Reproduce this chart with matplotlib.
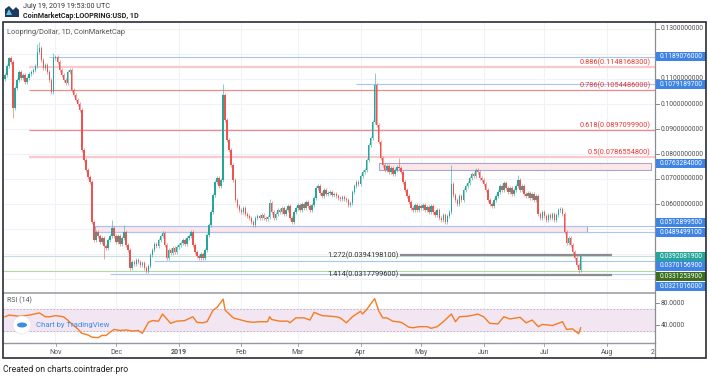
import matplotlib.pyplot as plt
import numpy as np
import pandas as pd
from matplotlib.patches import Rectangle, Polygon, Ellipse
from matplotlib.lines import Line2D

plt.rcParams['font.family'] = ['Roboto', 'DejaVu Sans']

W, H = 710, 377
START = "2018-10-07"

# daily closes, in units of 0.0001 USD, one list per month
close_oct = [1116, 1152, 1184, 1168, 984, 1064, 1096, 1128, 1104, 1116, 1088, 1104, 1120, 1128,
             1136, 1152, 1208, 1224, 1176, 1144, 1156, 1128, 1096, 1048, 1184]
close_nov = [1188, 1168, 1136, 1116, 1096, 1084, 1128, 1136, 1056, 1036, 1016, 1000, 976, 816, 776,
             736, 708, 688, 528, 456, 488, 472, 448, 464, 432, 424, 456, 472, 504, 472]
close_dec = [448, 472, 440, 464, 488, 436, 416, 344, 368, 360, 376, 368, 356, 364, 344, 332, 352,
             396, 416, 440, 432, 456, 472, 484, 436, 384, 416, 404, 424, 408, 428]
close_jan = [436, 444, 456, 440, 464, 472, 488, 436, 408, 392, 384, 400, 384, 416, 476, 516, 568,
             636, 688, 704, 672, 696, 1036, 936, 856, 816, 756, 696, 616, 592, 576]
close_feb = [568, 584, 560, 552, 544, 528, 516, 544, 552, 544, 556, 544, 540, 548, 604, 568, 544,
             560, 576, 568, 584, 560, 576, 592, 544, 528, 568, 584]
close_mar = [596, 576, 600, 584, 608, 592, 576, 596, 624, 664, 672, 644, 632, 656, 640, 644, 648,
             636, 640, 632, 624, 620, 628, 620, 616, 596, 604, 648, 672, 688, 680]
close_apr = [712, 728, 736, 776, 836, 864, 928, 1076, 916, 848, 784, 756, 736, 752, 728, 744, 720,
             736, 748, 744, 728, 688, 656, 632, 608, 584, 576, 596, 576, 592]
close_may = [584, 596, 576, 588, 568, 592, 568, 556, 576, 544, 536, 556, 528, 552, 568, 680, 636,
             616, 600, 632, 616, 656, 672, 684, 704, 720, 712, 736, 728, 704, 696]
close_jun = [680, 656, 616, 600, 592, 616, 632, 648, 672, 656, 684, 664, 648, 664, 640, 656, 672,
             696, 656, 672, 640, 632, 644, 624, 640, 616, 632, 560, 544, 568]
close_jul = [552, 536, 556, 544, 560, 536, 556, 576, 580, 560, 488, 444, 464, 436, 408, 384, 356,
             336, 392]
FIRST_OPEN = 1100

# notable wicks (candle index -> price, 0.0001 USD)
wick_high = {2: 1188, 16: 1240, 17: 1248, 24: 1204, 53: 536, 59: 516, 108: 1080, 131: 620,
             183: 1124, 195: 784, 221: 756, 254: 716}
wick_low = {4: 944, 49: 380, 70: 324, 284: 326}

# RSI(14): (candle index, value)
rsi_points = [(0, 55), (2, 58), (7, 56), (12, 58), (17, 62), (20, 55), (22, 55), (25, 57), (29, 55),
              (31, 49), (33, 42), (36, 33), (38, 25), (41, 22), (43, 18), (46, 17), (48, 21),
              (50, 21), (52, 27), (54, 32), (57, 30), (60, 31), (63, 29), (66, 30), (68, 25),
              (71, 45), (73, 48), (76, 47), (78, 60), (82, 43), (85, 47), (89, 48), (93, 55),
              (95, 45), (98, 44), (100, 46), (103, 67), (105, 72), (108, 87), (109, 67), (113, 53),
              (116, 50), (120, 46), (123, 45), (126, 46), (130, 46), (131, 55), (132, 50),
              (136, 47), (140, 47), (141, 44), (144, 53), (148, 53), (151, 49), (153, 63),
              (157, 57), (161, 56), (164, 55), (166, 53), (169, 44), (172, 55), (176, 65),
              (177, 60), (179, 68), (183, 88), (185, 66), (187, 53), (189, 53), (192, 47),
              (196, 45), (197, 43), (200, 36), (202, 35), (205, 37), (209, 37), (211, 34),
              (214, 37), (215, 40), (217, 46), (221, 60), (223, 46), (225, 55), (229, 56),
              (232, 58), (234, 60), (237, 55), (240, 43), (244, 42), (247, 55), (250, 51),
              (255, 54), (258, 44), (261, 49), (264, 37), (266, 41), (269, 40), (271, 39),
              (276, 46), (278, 32), (281, 33), (284, 24), (285, 35)]

fib_levels = [("0.886", 0.1148168300), ("0.786", 0.1054486000), ("0.618", 0.0897099900),
              ("0.5", 0.0786554800)]
ext_levels = [("1.272", 0.0394198100), ("1.414", 0.0317799600)]

# horizontal drawings: price, first candle index
blue_lines = [(0.1189076000, 22), (0.1079189700, 174), (0.0512899500, 45), (0.0489499100, 45),
              (0.0370156900, 74), (0.0321016000, 52)]
green_line = 0.0331253900
last_price = 0.0392081900

# price-scale labels: price, vertical nudge (px), colour
price_tags = [(0.1189076000, 0, "#3f84e5"), (0.1079189700, 0, "#3f84e5"),
              (0.0763284000, 0, "#3f84e5"), (0.0512899500, -3, "#3f84e5"),
              (0.0489499100, 1, "#3f84e5"), (0.0392081900, 1, "#26a69a"),
              (0.0370156900, 4.5, "#3f84e5"), (0.0331253900, 5, "#3b6e1e"),
              (0.0321016000, 12.5, "#3f84e5")]
# plain scale ticks that stay visible (0.12, 0.05, 0.04 sit under the tags)
price_ticks = [0.13, 0.11, 0.10, 0.09, 0.08, 0.07, 0.06]
grid_ticks = [0.13, 0.12, 0.11, 0.10, 0.09, 0.08, 0.07, 0.06, 0.05, 0.04, 0.03]

closes = np.array(close_oct + close_nov + close_dec + close_jan + close_feb + close_mar
                  + close_apr + close_may + close_jun + close_jul) * 1e-4
dates = pd.date_range(START, periods=len(closes), freq="D")
days = np.arange(len(closes))
opens = np.concatenate([[FIRST_OPEN * 1e-4], closes[:-1]])

XLIM = (-0.99, 321.8)
YLIM = (0.0244, 0.1328)
RLIM = (7.3, 98.2)


def fx(px):
    return px / W


def fy(py):
    return 1 - py / H


fig = plt.figure(figsize=(W / 100, H / 100), dpi=100)
fig.patch.set_facecolor("white")
ax = fig.add_axes([fx(3), fy(293), 652 / W, 271 / H])
rax = fig.add_axes([fx(3), fy(343), 652 / W, 50 / H])
for a in (ax, rax):
    a.set_xlim(*XLIM)
    a.axis("off")
ax.set_ylim(*YLIM)
rax.set_ylim(*RLIM)

# month grid / ticks
month_starts = pd.date_range("2018-11-01", "2019-08-01", freq="MS")
month_pos = [(d - dates[0]).days for d in month_starts]
month_lab = ["2019" if d.month == 1 else d.strftime("%b") for d in month_starts]
for m in month_pos:
    ax.axvline(m, color="#f0f2f7", lw=0.8, zorder=0)
    rax.axvline(m, color="#f0f2f7", lw=0.8, zorder=0)
for p in grid_ticks:
    ax.axhline(p, color="#f0f2f7", lw=0.8, zorder=0)

# candles
up = closes >= opens
colors = np.where(up, "#26a69a", "#ef5350")
highs = np.maximum(opens, closes) + 0.0008
lows = np.minimum(opens, closes) - 0.0008
for i, v in wick_high.items():
    highs[i] = v * 1e-4
for i, v in wick_low.items():
    lows[i] = v * 1e-4
ax.vlines(days, lows, highs, colors=colors, lw=0.7, alpha=0.55, zorder=4)
ax.bar(days, np.maximum(np.abs(closes - opens), 0.0003), bottom=np.minimum(opens, closes),
       width=0.75, color=colors, lw=0, zorder=5)

# fib retracement lines
fib_start = 12
for name, lvl in fib_levels:
    if name in ("0.886", "0.5"):
        ax.hlines(lvl, fib_start, XLIM[1], color="#f9c9cc", lw=1.6, zorder=2)
    else:
        ax.hlines(lvl, fib_start, XLIM[1], color="#f08a8f", lw=0.9, zorder=2)
    ax.text(319.8, lvl + 0.0003, f"{name}({lvl:.10f})", ha="right", va="bottom",
            fontsize=5.3, color="#e53935", zorder=6)

# fib extension
for name, lvl in ext_levels:
    ax.hlines(lvl, 195.5, 300.5, color="#8a8d93", lw=1.6, zorder=3)
    ax.text(195, lvl, f"{name}({lvl:.10f})", ha="right", va="center", fontsize=5.3,
            color="#333333", zorder=6)

# horizontal drawing lines
for lvl, start in blue_lines:
    ax.hlines(lvl, start, XLIM[1], color="#a9c6f2", lw=0.8, zorder=2)
ax.hlines(green_line, XLIM[0], XLIM[1], color="#b3d7a3", lw=0.8, zorder=2)
ax.hlines(last_price, XLIM[0], XLIM[1], color="#bfe3dc", lw=0.8, zorder=2)

# rectangles
ax.add_patch(Rectangle((185, 0.0738), 134.8, 0.0763284 - 0.0738, facecolor="#fde7ea",
                       edgecolor="#a4a9d6", lw=0.8, zorder=1))
ax.add_patch(Rectangle((44.6, 0.0489499), 288.1 - 44.6, 0.0512899 - 0.0489499,
                       facecolor="#fde7ea", edgecolor="#a4a9d6", lw=0.8, zorder=1))


# price scale
def price_fig_y(p):
    disp = ax.transData.transform((0, p))
    return fig.transFigure.inverted().transform(disp)[1]


for p in grid_ticks[:-1]:
    yf = price_fig_y(p)
    fig.add_artist(Line2D([fx(655), fx(659)], [yf, yf], color="#777777", lw=0.6))
for p in price_ticks:
    yf = price_fig_y(p)
    fig.text(fx(661), yf, f"{p:.10f}", fontsize=4.8, color="#4a4a4a", va="center")
for p, shift, col in price_tags:
    yf = price_fig_y(p) - shift / H
    fig.add_artist(Rectangle((fx(656), yf - 4.6 / H), 50 / W, 9.2 / H, transform=fig.transFigure,
                             facecolor=col, edgecolor="none", zorder=5))
    fig.text(fx(660), yf, f"{p:.10f}", fontsize=4.8, color="white", va="center", zorder=6)

# RSI pane
rax.axhspan(30, 70, color="#f3e6f3", zorder=1)
for lvl in (30, 70):
    rax.axhline(lvl, color="#b9a9bf", lw=0.6, ls=(0, (2, 2)), zorder=2)
rx, ry = zip(*rsi_points)
rax.plot(rx, ry, color="#f57c1f", lw=1.0, zorder=3)
for v in (80, 40):
    disp = rax.transData.transform((0, v))
    yf = fig.transFigure.inverted().transform(disp)[1]
    fig.add_artist(Line2D([fx(655), fx(659)], [yf, yf], color="#777777", lw=0.6))
    fig.text(fx(661), yf, f"{v:.4f}", fontsize=4.8, color="#4a4a4a", va="center")
fig.text(fx(7), fy(300), "RSI (14)", fontsize=5, color="#555555", va="center")

# TradingView watermark
fig.add_artist(Ellipse((fx(22), fy(325)), 18 / W, 18 / H, transform=fig.transFigure,
                       facecolor="white", edgecolor="#e6e6e6", lw=0.5, zorder=8))
fig.add_artist(Ellipse((fx(22), fy(325)), 10 / W, 5 / H, transform=fig.transFigure,
                       facecolor="#3c8be8", edgecolor="none", zorder=9))
fig.text(fx(36), fy(325), "Chart by TradingView", fontsize=5.6, color="#3c8be8", va="center",
         zorder=9)

# time axis
for m, lab in zip(month_pos, month_lab):
    xf = fx(5 + 2.02 * m)
    fig.add_artist(Line2D([xf, xf], [fy(343), fy(346)], color="#999999", lw=0.6))
    fig.text(xf, fy(352), lab, fontsize=5, color="#555555", ha="center", va="center",
             fontweight="bold" if lab == "2019" else "normal")
fig.text(fx(655), fy(352), "2", fontsize=5, color="#555555", ha="right", va="center")

# frame and separators
fig.add_artist(Line2D([fx(3), fx(655)], [fy(293), fy(293)], color="#9598a1", lw=1.1))
fig.add_artist(Line2D([fx(3), fx(655)], [fy(343), fy(343)], color="#9598a1", lw=1.0))
fig.add_artist(Line2D([fx(655), fx(655)], [fy(22), fy(358)], color="#8a8d93", lw=0.9))
fig.add_artist(Rectangle((fx(3), fy(358)), 703 / W, 336 / H, transform=fig.transFigure,
                         facecolor="none", edgecolor="#2a2e39", lw=1.2, zorder=10))

# header and footer
fig.add_artist(Polygon([(fx(5), fy(17)), (fx(5), fy(9)), (fx(9), fy(6)), (fx(13), fy(10)),
                        (fx(16), fy(7)), (fx(19), fy(10)), (fx(19), fy(17))],
                       closed=True, transform=fig.transFigure, facecolor="#1b3a5c",
                       edgecolor="none"))
fig.add_artist(Polygon([(fx(6), fy(15)), (fx(9), fy(9)), (fx(12), fy(15))], closed=True,
                       transform=fig.transFigure, facecolor="#5fc3e8", edgecolor="none"))
fig.text(fx(23), fy(7), "July 19, 2019 19:53:00 UTC", fontsize=5.2, color="#333333", va="center")
fig.text(fx(23), fy(16.5), "CoinMarketCap:LOOPRING:USD, 1D", fontsize=5.2, color="#222222",
         va="center", fontweight="bold")
fig.text(fx(7), fy(33), "Loopring/Dollar, 1D, CoinMarketCap", fontsize=5.3, color="#555555",
         va="center")
fig.text(fx(3), fy(369), "Created on charts.cointrader.pro", fontsize=6.2, color="#222222",
         va="center")

fig.savefig("out.png", dpi=100)
